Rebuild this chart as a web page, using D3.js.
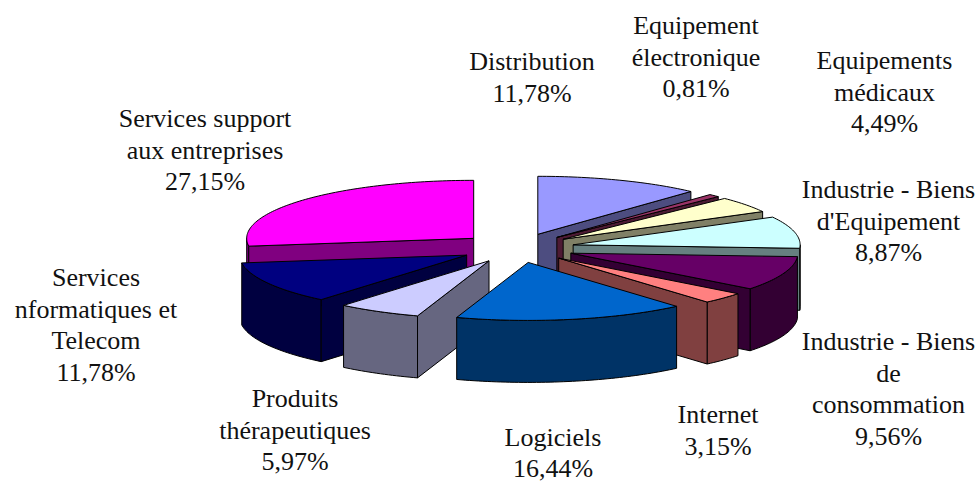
<!DOCTYPE html>
<html><head><meta charset="utf-8">
<script src="https://cdn.jsdelivr.net/npm/d3@7"></script>
<style>html,body{margin:0;padding:0;background:#fff}svg{display:block}</style>
</head><body><svg id="c" width="980" height="482"></svg>
<script>
const categories = ["Distribution","Equipement électronique","Equipements médicaux","Industrie - Biens d'Equipement","Industrie - Biens de consommation","Internet","Logiciels","Produits thérapeutiques","Services informatiques et Telecom","Services support aux entreprises"];
const values = [11.78,0.81,4.49,8.87,9.56,3.15,16.44,5.97,11.78,27.15];
const valueLabels = ["11,78%","0,81%","4,49%","8,87%","9,56%","3,15%","16,44%","5,97%","11,78%","27,15%"];
const labelLines = [["Distribution"],["Equipement","électronique"],["Equipements","médicaux"],["Industrie - Biens","d'Equipement"],["Industrie - Biens","de","consommation"],["Internet"],["Logiciels"],["Produits","thérapeutiques"],["Services","nformatiques et","Telecom"],["Services support","aux entreprises"]];
const topColors = ["#9999FF","#993366","#FFFFCC","#CCFFFF","#660066","#FF8080","#0066CC","#CCCCFF","#000080","#FF00FF"];
const wallColors = ["#4D4D80","#4D1A33","#808066","#668080","#330033","#804040","#003366","#666680","#000040","#800080"];
const labelCenters = [[532,70],[696,34],[884.5,69],[888.5,198],[888.5,350],[718,423],[553,445.5],[295,407],[96,286],[205,127]];

const cx=517, cy=248, rx=227, ry=58, depth=62, explode=57.5/227;
const x=d3.scaleLinear().domain([-1,1]).range([cx-rx,cx+rx]);
const y=d3.scaleLinear().domain([-1,1]).range([cy-ry,cy+ry]);
const svg=d3.select("#c");
const slices=d3.pie().sort(null).value(d=>d).startAngle(0).endAngle(2*Math.PI)(values)
  .map((s,i)=>{const m=(s.startAngle+s.endAngle)/2;
    return {...s,i,mid:m,ax:x(explode*Math.sin(m)),ay:y(-explode*Math.cos(m))};});
const rimPoint=(s,a,dz=0)=>[s.ax+rx*Math.sin(a), s.ay-ry*Math.cos(a)+dz];
const rim=(s,a0,a1,dz=0)=>{const n=Math.max(2,Math.ceil((a1-a0)/0.02));
  return d3.range(n+1).map(k=>rimPoint(s,a0+(a1-a0)*k/n,dz));};
const line=d3.line();
const order=[...slices].sort((p,q)=>p.ay-q.ay);
order.forEach(s=>{
  const g=svg.append("g");
  const sty=sel=>sel.attr("stroke","#000").attr("stroke-width",1).attr("stroke-linejoin","round");
  const a=s.startAngle,b=s.endAngle;
  // outer wall: front half only
  const f0=Math.max(a,Math.PI/2),f1=Math.min(b,3*Math.PI/2);
  if(f1>f0){
    const pts=rim(s,f0,f1).concat(rim(s,f0,f1,depth).reverse());
    g.append("path").attr("d",line(pts)+"Z").attr("fill",wallColors[s.i]).call(sty);
  }
  // radial walls that face the viewer
  const visible=[];
  if(Math.sin(a)<0) visible.push(a);
  if(Math.sin(b)>0) visible.push(b);
  visible.forEach(t=>{
    const p=rimPoint(s,t),q=rimPoint(s,t,depth);
    g.append("path").attr("d",line([[s.ax,s.ay],p,q,[s.ax,s.ay+depth]])+"Z").attr("fill",wallColors[s.i]).call(sty);
  });
  // top
  g.append("path").attr("d",line([[s.ax,s.ay],...rim(s,a,b)])+"Z").attr("fill",topColors[s.i]).call(sty);
});
const fs=26, lh=31.6;
slices.forEach(s=>{
  const lines=[...labelLines[s.i],valueLabels[s.i]];
  const [lx,ly]=labelCenters[s.i];
  const t=svg.append("text").attr("text-anchor","middle").attr("font-family","'Liberation Serif',serif").attr("font-size",fs).attr("fill","#111");
  lines.forEach((l,k)=>t.append("tspan").attr("x",lx).attr("y",ly+k*lh).text(l));
});
</script></body></html>
